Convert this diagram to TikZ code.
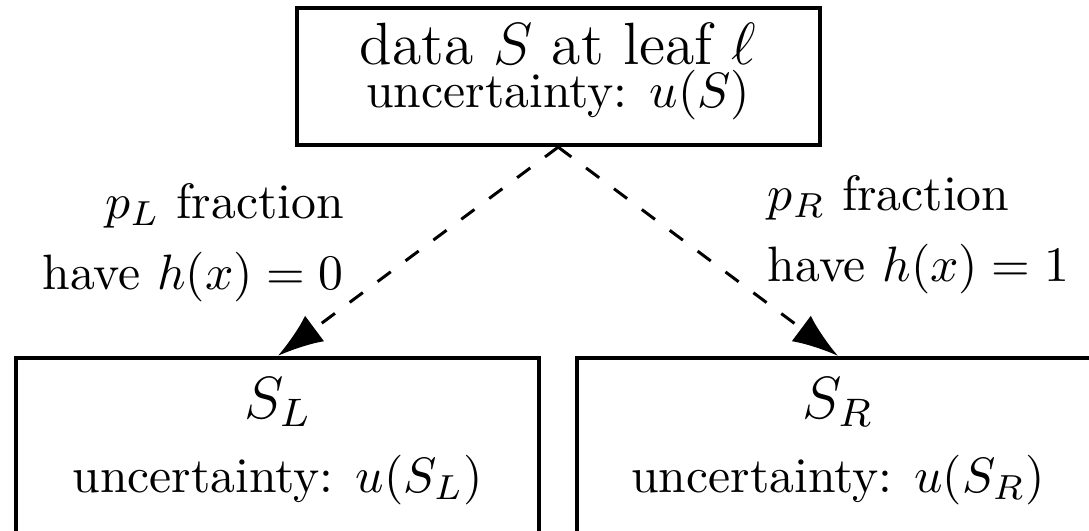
\documentclass[tikz,border=0pt]{standalone}
\usetikzlibrary{arrows.meta,positioning,calc}

\begin{document}
\begin{tikzpicture}[
        x=1pt, y=1pt,
        leafbox/.style={draw, thick, align=center, minimum width=105.2pt,
            inner xsep=0pt, inner ysep=2pt},
        split/.style={-{Latex[length=9.2pt, width=6.4pt]}, semithick,
            dash pattern=on 3.3pt off 3.7pt},
        frac/.style={inner sep=0pt},
    ]
        \useasboundingbox (0,0) rectangle (219.1,-106.8);

        % Leaf and its two children
        \node[leafbox, text height=18.1pt, text depth=5.5pt] (root) at (112.3,-15.4)
            {{\large data $S$ at leaf $\ell$}\\[-3.2pt] uncertainty: $u(S)$};
        \node[leafbox, text height=25pt, text depth=6.2pt] (left) at (55.9,-89.6)
            {{\large $S_L$}\\[2.9pt] uncertainty: $u(S_L)$};
        \node[leafbox, text height=25pt, text depth=6.2pt] (right) at (168.6,-89.6)
            {{\large $S_R$}\\[2.9pt] uncertainty: $u(S_R)$};

        % Split
        \draw[split] (root.south) -- (left.north);
        \draw[split] (root.south) -- (right.north);

        % Fractions
        \node[frac, anchor=base east, align=right] (fracL) at (69.4,-58.3)
            {$p_L$ fraction\\[2.4pt] have $h(x)=0$};
        \node[frac, anchor=base west, align=left] (fracR) at (154.3,-56.7)
            {$p_R$ fraction\\[2.4pt] have $h(x)=1$};
\end{tikzpicture}
\end{document}
